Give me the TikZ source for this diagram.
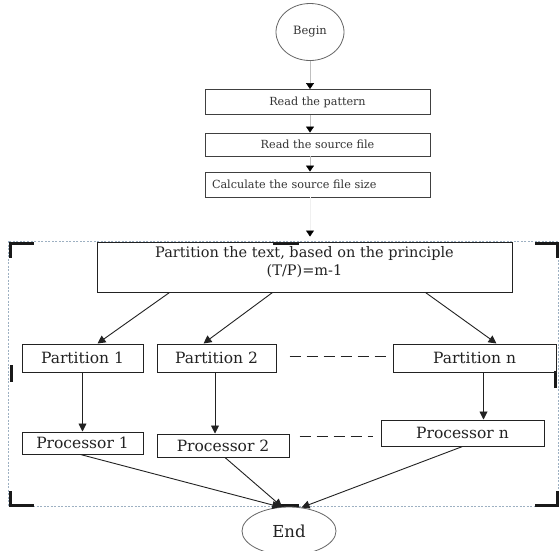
\documentclass[tikz,border=0pt]{standalone}
\usepackage{fontspec}
\setmainfont{DejaVu Serif}
\newfontfamily\bigfont{DejaVu Serif}
\newfontfamily\boxfont{DejaVu Serif}
\newfontfamily\smallfont{DejaVu Serif}
\usetikzlibrary{arrows.meta,shapes.geometric}

\definecolor{inkc}{HTML}{222222}
\definecolor{framec}{HTML}{9DB0C2}

\tikzset{
  smallbox/.style={draw=black!75, line width=0.9pt, minimum width=225pt,
    minimum height=25pt, inner sep=0pt, text=black!80,
    font=\smallfont\fontsize{11.2}{13}\selectfont},
  partbox/.style={draw=inkc, line width=1pt, inner sep=0pt, text=inkc,
    font=\boxfont\fontsize{15.5}{18}\selectfont},
  term/.style={ellipse, draw=black!60, line width=0.8pt, inner sep=0pt},
  arr/.style={-{Triangle[length=8pt,width=8pt]}, line width=0.9pt, draw=inkc},
  faint/.style={-{Triangle[length=6pt,width=8pt,color=black]}, line width=0.5pt, draw=black!25},
  dashc/.style={line width=0.9pt, draw=inkc, dash pattern=on 11pt off 6pt},
  handle/.style={fill=black!90},
  frame/.style={draw=framec, line width=0.7pt, dash pattern=on 2pt off 1.5pt}
}

\begin{document}
\begin{tikzpicture}[x=1pt,y=-1pt]
\useasboundingbox (0,0) rectangle (559,550);
\clip (0,0) rectangle (559,550);
\fill[white] (0,0) rectangle (559,550);

% selection frame and its handles
\draw[frame] (8,241) rectangle (558,506.5);
\fill[handle] (9,242) rectangle (34,245);
\fill[handle] (9,242) rectangle (12,258);
\fill[handle] (535,242) rectangle (559,245);
\fill[handle] (556,242) rectangle (559,258);
\fill[handle] (273,242) rectangle (299,245);
\fill[handle] (10,365) rectangle (13,382);
\fill[handle] (554,371) rectangle (557,388);
\fill[handle] (9,491) rectangle (12,507);
\fill[handle] (9,504) rectangle (34,507);
\fill[handle] (273,504) rectangle (299,507);
\fill[handle] (535,504) rectangle (559,507);
\fill[handle] (556,491) rectangle (559,507);

% terminals
\node[term, minimum width=68pt, minimum height=57pt,
      font=\smallfont\fontsize{11.5}{14}\selectfont, text=black!80] (begin) at (310,32) {Begin};
\node[term, minimum width=94pt, minimum height=48pt,
      font=\boxfont\fontsize{16.5}{19}\selectfont, text=inkc] (end) at (289,531) {End};

% sequential steps
\node[smallbox] (read1) at (317.5,102) {Read the pattern};
\node[smallbox, minimum height=23pt] (read2) at (317.5,144.5) {Read the source file};
\node[smallbox, text width=211pt, align=left] (read3) at (317.5,184.5) {Calculate the source file size};

% partitioning step
\node[partbox, minimum width=415pt, minimum height=50pt] (pt) at (304.5,267) {};
\node[font=\bigfont\fontsize{14.5}{17.5}\selectfont, text=inkc, align=center, inner sep=0pt]
     (pttext) at (304.5,262) {Partition the text, based on the principle\\(T/P)=m-1};

% partitions
\node[partbox, minimum width=121pt, minimum height=28pt] (p1) at (82.5,358) {Partition 1};
\node[partbox, minimum width=119pt, minimum height=28pt] (p2) at (216.5,358) {Partition 2};
\node[partbox, minimum width=163pt, minimum height=28pt] (pn) at (474.5,358) {Partition n};

% processors
\node[partbox, minimum width=121pt, minimum height=22pt] (q1) at (82.5,443) {Processor 1};
\node[partbox, minimum width=132pt, minimum height=23pt] (q2) at (223,445.5) {Processor 2};
\node[partbox, minimum width=163pt, minimum height=26pt] (qn) at (462.5,433) {Processor n};

% connectors of the sequential part
\draw[faint] (begin.south) -- (begin.south |- read1.north);
\draw[faint] (begin.south |- read1.south) -- (begin.south |- read2.north);
\draw[faint] (begin.south |- read2.south) -- (begin.south |- read3.north);
\draw[faint, draw=black!6, shorten >=5pt] (begin.south |- read3.south) -- (begin.south |- pt.north);

% partition text to partitions
\draw[arr] ([xshift=73pt]pt.south west) -- ([xshift=15pt]p1.north);
\draw[arr] ([xshift=176pt]pt.south west) -- ([xshift=-13pt]p2.north);
\draw[arr] ([xshift=-87pt]pt.south east) -- ([xshift=22pt]pn.north);

% partitions to processors
\draw[arr] (p1.south) -- (p1.south |- q1.north);
\draw[arr] ([xshift=-1.5pt]p2.south) -- ([xshift=-1.5pt]p2.south |- q2.north);
\draw[arr] ([xshift=9pt]pn.south) -- ([xshift=9pt]pn.south |- qn.north);

% processors to end
\draw[arr] ([xshift=-2pt]q1.south) -- (end.110);
\draw[arr] ([xshift=2pt]q2.south) -- (end.106);
\draw[arr] (qn.south) -- (end.62);

% ellipsis between the last columns
\draw[dashc] ([xshift=13pt,yshift=2pt]p2.east) -- ([xshift=-4pt,yshift=2pt]pn.west);
\draw[dashc] ([xshift=10pt,yshift=9.5pt]q2.east) -- ([xshift=-8pt,yshift=-3pt]qn.west);
\end{tikzpicture}
\end{document}
